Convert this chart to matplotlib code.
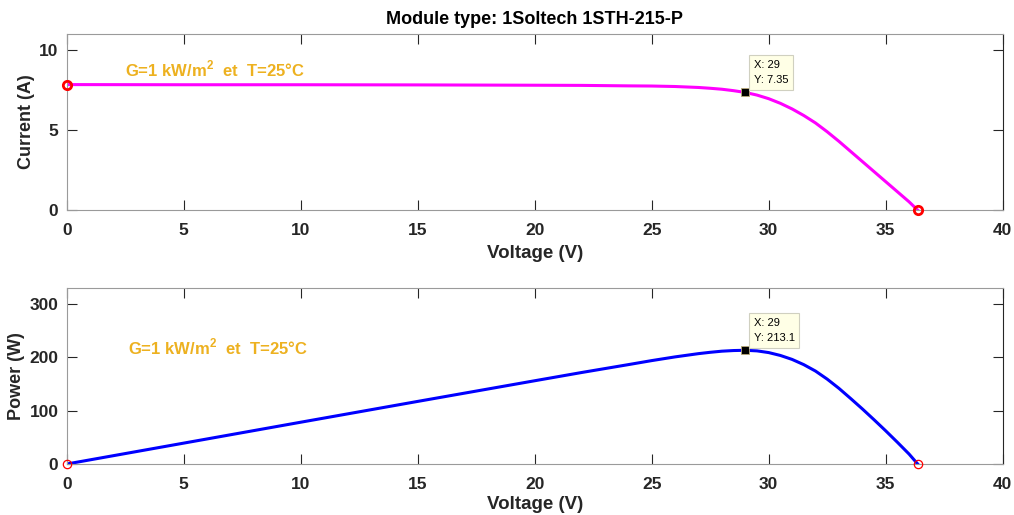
import matplotlib.pyplot as plt

# I-V and P-V data
VOLTAGE = [0, 5, 10, 15, 20, 22, 24, 25, 26, 27, 27.5, 28, 28.5, 29, 29.5,
           30, 30.5, 31, 31.5, 32, 32.5, 33, 33.5, 34, 34.5, 35, 35.5, 36,
           36.37]
CURRENT = [7.84, 7.83, 7.83, 7.82, 7.80, 7.79, 7.76, 7.75, 7.72, 7.66, 7.61,
           7.55, 7.46, 7.35, 7.185, 6.96, 6.67, 6.32, 5.91, 5.445, 4.895,
           4.30, 3.67, 3.04, 2.41, 1.78, 1.15, 0.52, 0.0]
POWER = [0, 39.15, 78.3, 117.3, 156.0, 171.4, 186.2, 193.75, 200.7, 206.8,
         209.3, 211.4, 212.6, 213.1, 212.0, 208.8, 203.4, 196.0, 186.2, 174.2,
         159.1, 141.9, 122.9, 103.4, 83.1, 62.3, 40.8, 18.7, 0.0]

V_MPP = 29
I_MPP = 7.35
P_MPP = 213.1
ISC = 7.84
VOC = 36.37

TITLE = 'Module type: 1Soltech 1STH-215-P'
COND = 'G=1 kW/m$^\\mathbf{2}$  et  T=25°C'

plt.rcParams['font.family'] = ['Liberation Sans', 'DejaVu Sans']
plt.rcParams['mathtext.fontset'] = 'custom'
plt.rcParams['mathtext.bf'] = 'Liberation Sans:bold'
plt.rcParams['mathtext.rm'] = 'Liberation Sans:bold'

DARK = '#262626'
GREY = '#9a9a9a'
ORANGE = '#EDB120'


def style_axes(ax):
    ax.tick_params(direction='in', length=7, width=0.8, colors=DARK,
                   labelsize=12.5, top=True, right=True)
    ax.tick_params(axis='x', pad=9)
    ax.tick_params(axis='y', pad=6)
    for lab in ax.get_xticklabels() + ax.get_yticklabels():
        lab.set_fontweight('bold')
    for side in ['top', 'bottom', 'left']:
        ax.spines[side].set_color(GREY)
    ax.spines['right'].set_color(DARK)


def datatip(ax, x, y, text):
    ax.plot([x], [y], 's', color='black', markersize=6,
            markeredgecolor='#b8a878', markeredgewidth=0.6, zorder=5)
    ax.annotate(text, xy=(x, y), xytext=(6, 5), textcoords='offset points',
                fontsize=8, va='bottom', ha='left', color='black',
                linespacing=1.7,
                bbox=dict(boxstyle='square,pad=0.4', fc='#ffffe6',
                          ec='#d0d0c0', lw=0.8), zorder=6)


fig = plt.figure(figsize=(10.14, 5.15), dpi=100)
ax1 = fig.add_axes([0.0658, 0.592, 0.923, 0.342])
ax2 = fig.add_axes([0.0658, 0.099, 0.923, 0.342])

ax1.plot(VOLTAGE, CURRENT, '-', color='#ff00ff', linewidth=2.2)
ax1.plot([0, VOC], [ISC, 0], 'o', mfc='none', mec='red', mew=2, markersize=6,
         clip_on=False, zorder=4)
datatip(ax1, V_MPP, I_MPP, 'X: %g\nY: %g' % (V_MPP, I_MPP))
ax1.text(2.5, 8.8, COND, color=ORANGE, fontsize=12, fontweight='bold',
         va='center')
ax1.set_xlim(0, 40)
ax1.set_ylim(0, 11)
ax1.set_xticks(range(0, 41, 5))
ax1.set_yticks([0, 5, 10])
ax1.set_xlabel('Voltage (V)', fontsize=13.5, fontweight='bold', color=DARK,
               labelpad=5)
ax1.set_ylabel('Current (A)', fontsize=13, fontweight='bold', color=DARK,
               labelpad=3)
ax1.set_title(TITLE, fontsize=13, fontweight='bold', color='black', pad=7)
style_axes(ax1)

ax2.plot(VOLTAGE, POWER, '-', color='#0000ff', linewidth=2.2)
ax2.plot([0, VOC], [0, 0], 'o', mfc='none', mec='red', mew=0.9,
         markersize=6, clip_on=False, zorder=4)
datatip(ax2, V_MPP, P_MPP, 'X: %g\nY: %g' % (V_MPP, P_MPP))
ax2.text(2.6, 219, COND, color=ORANGE, fontsize=12, fontweight='bold',
         va='center')
ax2.set_xlim(0, 40)
ax2.set_ylim(0, 330)
ax2.set_xticks(range(0, 41, 5))
ax2.set_yticks([0, 100, 200, 300])
ax2.set_xlabel('Voltage (V)', fontsize=13.5, fontweight='bold', color=DARK,
               labelpad=3)
ax2.set_ylabel('Power (W)', fontsize=13, fontweight='bold', color=DARK,
               labelpad=3)
style_axes(ax2)

fig.savefig('out.png', dpi=100)
